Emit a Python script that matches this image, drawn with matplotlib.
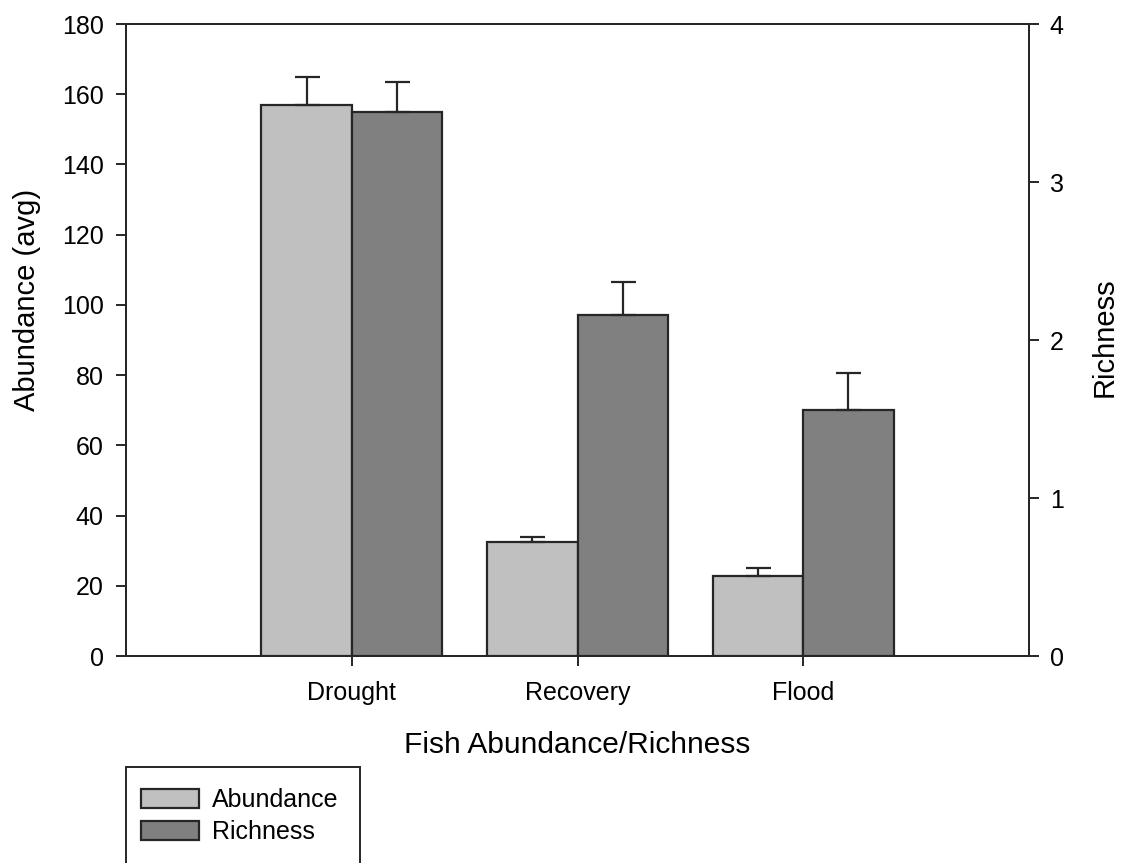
import numpy as np
import matplotlib.pyplot as plt
from matplotlib.patches import Rectangle, Patch

plt.rcParams['font.family'] = ['Liberation Sans', 'DejaVu Sans']

categories = ["Drought", "Recovery", "Flood"]
abundance = [157, 32.4, 22.8]
abundance_err = [8, 1.4, 2.2]
richness = [3.44, 2.16, 1.56]
richness_err = [0.19, 0.21, 0.23]

light = "#c0c0c0"
dark = "#808080"
edge = "#262626"
fs = 18

fig = plt.figure(figsize=(11.21, 8.63), dpi=100)
ax = fig.add_axes([126 / 1121, 1 - 656 / 863, 903 / 1121, 632 / 863])
ax2 = ax.twinx()

x = np.arange(1, len(categories) + 1)
w = 0.4

ax.bar(x - w / 2, abundance, w, color=light, edgecolor=edge, linewidth=1.6, zorder=2)
ax.errorbar(x - w / 2, abundance, yerr=[np.zeros(3), abundance_err], fmt="none",
            ecolor=edge, elinewidth=1.6, capsize=9, capthick=1.6, zorder=3)
ax2.bar(x + w / 2, richness, w, color=dark, edgecolor=edge, linewidth=1.6, zorder=2)
ax2.errorbar(x + w / 2, richness, yerr=[np.zeros(3), richness_err], fmt="none",
             ecolor=edge, elinewidth=1.6, capsize=9, capthick=1.6, zorder=3)

ax.set_xlim(0, 4)
ax.set_ylim(0, 180)
ax2.set_ylim(0, 4)
ax.set_yticks(range(0, 181, 20))
ax2.set_yticks(range(0, 5))
ax.set_xticks(x)
ax.set_xticklabels(categories)

for a in (ax, ax2):
    for s in a.spines.values():
        s.set_color(edge)
        s.set_linewidth(1.4)
    a.tick_params(direction="out", length=7, width=1.4, color=edge, labelsize=fs)
ax.tick_params(axis="y", pad=9)
ax2.tick_params(axis="y", pad=8)
ax.tick_params(axis="x", pad=11)

ax.set_ylabel("Abundance (avg)", fontsize=21)
ax.yaxis.set_label_coords(-0.094, 0.563)
ax2.set_ylabel("Richness", fontsize=21)
ax2.yaxis.set_label_coords(1.068, 0.505)
ax.set_xlabel("Fish Abundance/Richness", fontsize=21.5)
ax.xaxis.set_label_coords(0.5, -0.118)

# legend box runs off the bottom of the figure
fig.patches.append(Rectangle((126 / 1121, -0.1), 234 / 1121, 0.1 + 1 - 767 / 863,
                             transform=fig.transFigure, fill=False,
                             edgecolor=edge, linewidth=1.4))
handles = [Patch(facecolor=light, edgecolor=edge, linewidth=1.6, label="Abundance"),
           Patch(facecolor=dark, edgecolor=edge, linewidth=1.6, label="Richness")]
fig.legend(handles=handles, loc="upper left", bbox_to_anchor=(141 / 1121, 1 - 788 / 863),
           frameon=False, fontsize=fs, borderpad=0, borderaxespad=0,
           handlelength=2.3, handleheight=0.8, handletextpad=0.55, labelspacing=0.32)

fig.savefig("out.png", dpi=100)
